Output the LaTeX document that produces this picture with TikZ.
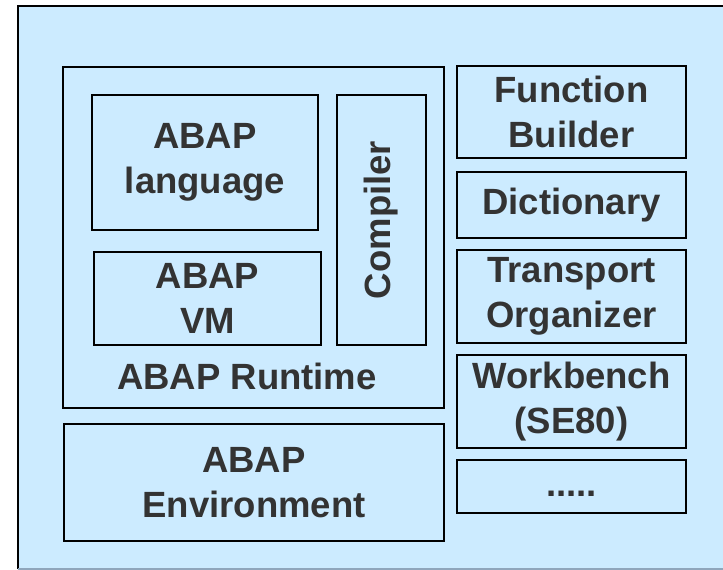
\documentclass[tikz,border=0pt]{standalone}
\usepackage{fontspec}
\setmainfont{Liberation Sans}
\usetikzlibrary{positioning}

\definecolor{abapblue}{HTML}{CCEBFF}
\definecolor{abapgray}{HTML}{333333}
\definecolor{abapedge}{HTML}{8FA6BC}
\newcommand{\abapfont}{\fontsize{36.5}{45}\selectfont\bfseries}

\begin{document}
\begin{tikzpicture}[x=1pt, y=-1pt, node distance=12pt,
   box/.style={draw, line width=2pt, fill=abapblue, text=abapgray,
               inner sep=0pt, outer sep=0pt, align=center, font=\abapfont},
   tool/.style={box, minimum width=229pt},
   caption/.style={text=abapgray, font=\abapfont}]
   \useasboundingbox (0,0) rectangle (723,570);

   % outer frame, its right side is cut off
   \fill[abapblue] (18,6) rectangle (735,569);
   \draw[line width=2pt] (18,569) |- (735,6);
   \draw[line width=2pt, abapedge] (18,569) -- (735,569);

   % runtime with its parts
   \node[box, anchor=north west, minimum width=381pt, minimum height=341pt] (rt) at (63,67) {};
   \node[box, anchor=north west, minimum width=226pt, minimum height=135pt] (lang) at (92,95) {ABAP\\language};
   \node[box, anchor=north west, minimum width=227pt, minimum height=93pt] (vm) at (94,252) {ABAP\\VM};
   \node[box, anchor=north west, minimum width=89pt, minimum height=250pt] (comp) at (337,95) {};
   \node[caption, rotate=90] (complabel) at (comp.center) {Compiler};
   \node[caption] (rtlabel) at (247,376) {ABAP Runtime};

   \node[box, anchor=north west, minimum width=380pt, minimum height=117pt] (env) at (64,424) {ABAP\\Environment};

   % tools on the right
   \node[tool, anchor=north west, minimum height=92pt] (fb) at (457,66) {Function\\Builder};
   \node[tool, minimum height=66pt] (dict) [below=14pt of fb] {Dictionary};
   \node[tool, minimum height=93pt] (tr) [below=of dict] {Transport\\Organizer};
   \node[tool, minimum height=93pt] (wb) [below=of tr] {Workbench\\(SE80)};
   \node[tool, minimum height=53pt] (more) [below=of wb] {};
   \node[caption, yshift=-7pt] (dots) at (more.center) {.....};
\end{tikzpicture}
\end{document}
